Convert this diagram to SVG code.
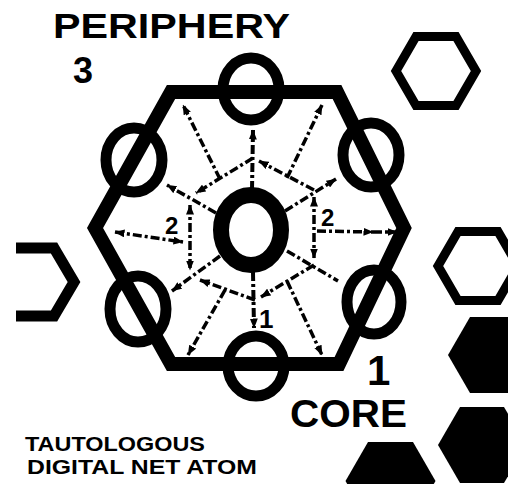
<svg xmlns="http://www.w3.org/2000/svg" width="508" height="484" viewBox="0 0 508 484">
<style>
.hex{fill:none;stroke:#000;stroke-width:14;stroke-linejoin:miter}
.ring{fill:none;stroke:#000;stroke-width:11}
.core{fill:none;stroke:#000;stroke-width:16}
.cell{fill:none;stroke:#000;stroke-width:9;stroke-linejoin:miter}
.solid{fill:#000;stroke:none}
.dd{fill:none;stroke:#000;stroke-width:3.5;stroke-dasharray:9 3 3 3}
.t{font-family:"Liberation Sans",Arial,sans-serif;font-weight:bold;fill:#000}
</style>
<defs>
<marker id="ah" viewBox="0 0 10 8" refX="9.5" refY="4" markerWidth="10" markerHeight="8" markerUnits="userSpaceOnUse" orient="auto-start-reverse">
<path d="M0,0 L10,4 L0,8 z" fill="#000"/>
</marker>
</defs>
<rect width="508" height="484" fill="#fff"/>

<g id="cell-top-right"><polygon class="cell" points="476,71 456,36.4 416,36.4 396,71 416,105.6 456,105.6"/></g>
<g id="cell-right"><polygon class="cell" points="518,266 498,231.4 458,231.4 438,266 458,300.6 498,300.6"/></g>
<g id="cell-left"><polyline class="ring" points="16,248 54,248 74,282 54,316 16,316"/></g>
<g id="cell-solid-1"><polygon class="solid" points="536,355 514,316.9 470,316.9 448,355 470,393.1 514,393.1"/></g>
<g id="cell-solid-2"><polygon class="solid" points="526,445 504,406.9 460,406.9 438,445 460,483.1 504,483.1"/></g>
<g id="cell-solid-3"><polygon class="solid" points="435.5,481 413,442 368,442 345.5,481 368,520 413,520"/></g>

<g id="atom"><polygon class="hex" points="95,228 171,92 337,92 404,228 339,364 171,364"/></g>

<g id="periphery">
<ellipse class="ring" cx="251" cy="89" rx="28" ry="31"/>
<ellipse class="ring" cx="256" cy="366" rx="28" ry="30"/>
<ellipse class="ring" cx="134" cy="160" rx="28" ry="32"/>
<ellipse class="ring" cx="371" cy="155" rx="28" ry="32"/>
<ellipse class="ring" cx="138" cy="309" rx="28" ry="33"/>
<ellipse class="ring" cx="374" cy="302" rx="27" ry="32"/>
</g>

<g id="core"><ellipse class="core" cx="251" cy="230" rx="30" ry="35"/></g>

<g id="connectors">
<line class="dd" x1="253" y1="158" x2="196" y2="193" marker-end="url(#ah)"/>
<line class="dd" x1="314" y1="190" x2="259" y2="161" marker-end="url(#ah)"/>
<line class="dd" x1="190" y1="205" x2="190" y2="270" marker-start="url(#ah)" marker-end="url(#ah)"/>
<line class="dd" x1="314" y1="197" x2="314" y2="258" marker-start="url(#ah)" marker-end="url(#ah)"/>
<line class="dd" x1="255" y1="300" x2="200" y2="280" marker-end="url(#ah)"/>
<line class="dd" x1="314" y1="265" x2="261" y2="297" marker-end="url(#ah)"/>
<line class="dd" x1="252" y1="190" x2="253" y2="130" marker-end="url(#ah)" style="stroke-width:4"/>
<line class="dd" x1="253" y1="272" x2="254" y2="328" marker-end="url(#ah)" style="stroke-width:4"/>
<line class="dd" x1="216" y1="213" x2="167" y2="185" marker-end="url(#ah)"/>
<line class="dd" x1="285" y1="211" x2="336" y2="179" marker-end="url(#ah)"/>
<line class="dd" x1="220" y1="256" x2="172" y2="291" marker-end="url(#ah)"/>
<line class="dd" x1="287" y1="251" x2="338" y2="281"/>
<line class="dd" x1="220" y1="179" x2="183" y2="105" marker-end="url(#ah)"/>
<line class="dd" x1="287" y1="178" x2="322" y2="105" marker-end="url(#ah)"/>
<line class="dd" x1="225" y1="290" x2="188" y2="355" marker-end="url(#ah)"/>
<line class="dd" x1="287" y1="281" x2="322" y2="355" marker-end="url(#ah)"/>
<line class="dd" x1="317" y1="231" x2="373" y2="232" marker-end="url(#ah)"/>
<line class="dd" x1="373" y1="232" x2="397" y2="232" marker-end="url(#ah)"/>
<line class="dd" x1="115" y1="232" x2="183" y2="242" marker-start="url(#ah)" marker-end="url(#ah)"/>
</g>

<g id="labels">
<text class="t" x="53" y="38" font-size="35" textLength="237" lengthAdjust="spacingAndGlyphs">PERIPHERY</text>
<text class="t" x="73" y="83" font-size="36">3</text>
<text class="t" x="367" y="385" font-size="42">1</text>
<text class="t" x="290" y="427" font-size="38" textLength="117" lengthAdjust="spacingAndGlyphs">CORE</text>
<text class="t" x="25" y="451" font-size="20.5" textLength="180" lengthAdjust="spacingAndGlyphs">TAUTOLOGOUS</text>
<text class="t" x="27" y="474" font-size="20.5" textLength="230" lengthAdjust="spacingAndGlyphs">DIGITAL NET ATOM</text>
<text class="t" x="165" y="234" font-size="24">2</text>
<text class="t" x="321" y="226" font-size="24">2</text>
<text class="t" x="259" y="328" font-size="26">1</text>
</g>
</svg>
